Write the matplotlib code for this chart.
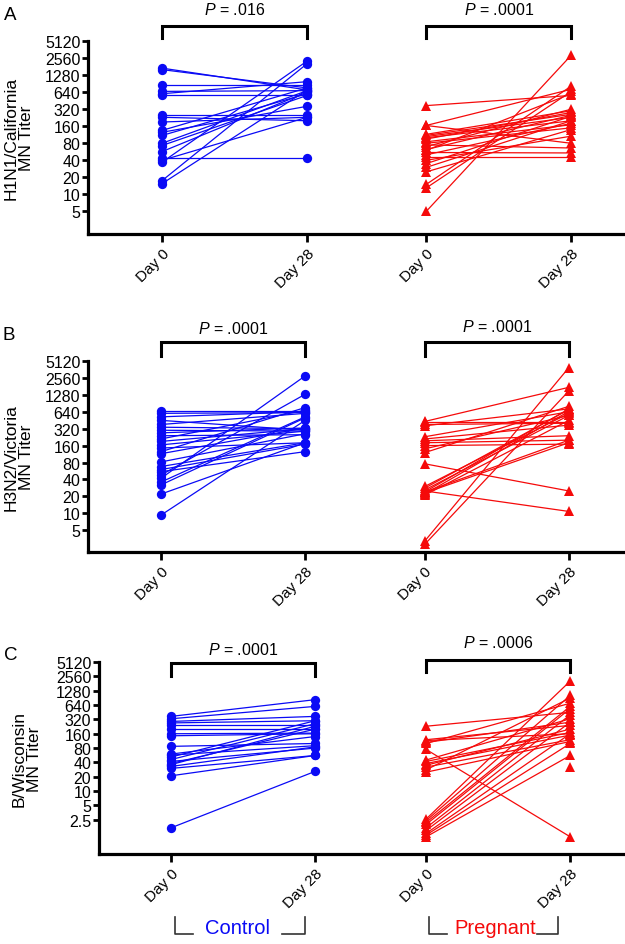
import numpy as np
import matplotlib
matplotlib.use('Agg')
import matplotlib.pyplot as plt
import matplotlib.transforms as mtransforms
from matplotlib.ticker import FixedLocator, FixedFormatter, NullLocator

plt.rcParams['font.family'] = ['Liberation Sans', 'DejaVu Sans']
plt.rcParams['mathtext.fontset'] = 'custom'
plt.rcParams['mathtext.it'] = 'Liberation Sans:italic'
plt.rcParams['mathtext.rm'] = 'Liberation Sans'

# ---------------- data ----------------
day_labels = ['Day 0', 'Day 28']
group_labels = ['Control', 'Pregnant']
panel_letters = ['A', 'B', 'C']
ylabels = ['H1N1/California\nMN Titer', 'H3N2/Victoria\nMN Titer', 'B/Wisconsin\nMN Titer']
pvals_ctrl = ['.016', '.0001', '.0001']
pvals_preg = ['.0001', '.0001', '.0006']
ticks_ab = [5, 10, 20, 40, 80, 160, 320, 640, 1280, 2560, 5120]
ticks_c = [2.5, 5, 10, 20, 40, 80, 160, 320, 640, 1280, 2560, 5120]
tick_labels_ab = ['5', '10', '20', '40', '80', '160', '320', '640', '1280', '2560', '5120']
tick_labels_c = ['2.5', '5', '10', '20', '40', '80', '160', '320', '640', '1280', '2560', '5120']

h1_ctrl_d0 = [1700, 1600, 870, 660, 600, 560, 250, 230, 190, 135, 125, 110, 80, 73, 57, 44, 40, 37, 17.5, 15.5]
h1_ctrl_d28 = [700, 760, 870, 680, 980, 560, 250, 200, 230, 760, 360, 600, 680, 560, 640, 44, 230, 2270, 2040, 700]
h1_preg_d0 = [370, 165, 165, 115, 110, 105, 100, 95, 85, 80, 75, 70, 62, 55, 50, 45, 40, 35, 30, 25, 15, 13, 5, 60]
h1_preg_d28 = [560, 720, 80, 300, 260, 230, 200, 280, 170, 150, 66, 320, 250, 54, 180, 45, 107, 240, 200, 140, 820, 660, 2880, 600]

h3_ctrl_d0 = [650, 600, 520, 450, 380, 340, 300, 270, 240, 210, 190, 165, 145, 125, 115, 82, 68, 60, 55, 48, 42, 36, 32, 22, 9.3]
h3_ctrl_d28 = [650, 620, 640, 300, 600, 320, 290, 330, 250, 680, 320, 290, 180, 760, 330, 260, 180, 170, 125, 1310, 2780, 520, 500, 180, 450]
h3_preg_d0 = [430, 420, 380, 360, 230, 210, 195, 180, 160, 140, 120, 76, 30, 28, 26, 25, 24, 23, 22, 21, 3.2, 2.8, 24]
h3_preg_d28 = [1740, 420, 400, 720, 640, 370, 240, 200, 170, 550, 800, 25, 600, 700, 550, 10.8, 200, 180, 650, 450, 3900, 1500, 720]

bw_ctrl_d0 = [370, 330, 290, 270, 240, 200, 160, 145, 87, 57, 52, 46, 42, 38, 33, 30, 21, 1.7, 36, 60]
bw_ctrl_d28 = [830, 600, 370, 300, 240, 200, 165, 160, 100, 90, 300, 260, 80, 200, 85, 56, 56, 26, 230, 140]
bw_preg_d0 = [230, 120, 115, 105, 100, 75, 45, 42, 38, 35, 32, 28, 25, 2.6, 2.4, 2.2, 2.0, 1.7, 1.5, 1.3, 1.2, 1.1, np.nan]
bw_preg_d28 = [450, 240, 160, 280, 700, 1.1, 330, 170, 150, 200, 120, 900, 110, 2040, 1020, 600, 540, 400, 280, 160, 100, 56, 32]

panels = [
    (h1_ctrl_d0, h1_ctrl_d28, h1_preg_d0, h1_preg_d28),
    (h3_ctrl_d0, h3_ctrl_d28, h3_preg_d0, h3_preg_d28),
    (bw_ctrl_d0, bw_ctrl_d28, bw_preg_d0, bw_preg_d28),
]

# ---------------- layout (pixels) ----------------
W, H = 625, 945
fig = plt.figure(figsize=(W / 100, H / 100), dpi=100)

def fx(px):
    return px / W

def fy(py):
    return 1 - py / H

layout = [
    dict(left=88, top=42, bottom=235, xlim=(-0.51, 3.19), poff=1.82, ymin=2.0, ticks=ticks_ab, tl=tick_labels_ab,
         letter=(4, 16), ylab_x=19, brk_c=(27, 39, 10), brk_p=(27, 39, 10)),
    dict(left=88, top=362, bottom=553, xlim=(-0.507, 3.22), poff=1.83, ymin=2.05, ticks=ticks_ab, tl=tick_labels_ab,
         letter=(3, 336), ylab_x=19, brk_c=(343, 357, 329), brk_p=(343, 357, 327)),
    dict(left=99, top=663, bottom=855, xlim=(-0.5, 3.15), poff=1.77, ymin=0.48, ticks=ticks_c, tl=tick_labels_c,
         letter=(4, 655), ylab_x=27, brk_c=(664, 677, 650), brk_p=(661, 673, 643)),
]

blue = '#0A0AF5'
red = '#F50A0A'

for i, (lay, data) in enumerate(zip(layout, panels)):
    c0, c28, p0, p28 = [np.asarray(d, dtype=float) for d in data]
    ax = fig.add_axes([fx(lay['left']), fy(lay['bottom']), fx(W) - fx(lay['left']),
                       (lay['bottom'] - lay['top']) / H])
    ax.set_yscale('log', base=2)
    ax.set_ylim(lay['ymin'], 5120)
    ax.set_xlim(*lay['xlim'])
    xc = np.array([0.0, 1.0])
    xp = xc + lay['poff']

    # lines
    ax.plot(np.vstack([np.full(len(c0), xc[0]), np.full(len(c0), xc[1])]),
            np.vstack([c0, c28]), color=blue, lw=0.9, zorder=2)
    ax.plot(np.vstack([np.full(len(p0), xp[0]), np.full(len(p0), xp[1])]),
            np.vstack([p0, p28]), color=red, lw=0.9, zorder=2)
    # markers
    ax.plot(np.full(len(c0), xc[0]), c0, 'o', color=blue, ms=6.7, mew=0, zorder=3)
    ax.plot(np.full(len(c28), xc[1]), c28, 'o', color=blue, ms=6.7, mew=0, zorder=3)
    ax.plot(np.full(len(p0), xp[0]), p0, '^', color=red, ms=6.5, mew=0, zorder=3)
    ax.plot(np.full(len(p28), xp[1]), p28, '^', color=red, ms=6.5, mew=0, zorder=3)

    # axes style
    for s in ['top', 'right']:
        ax.spines[s].set_visible(False)
    for s in ['left', 'bottom']:
        ax.spines[s].set_linewidth(2.3)
    ax.yaxis.set_major_locator(FixedLocator(lay['ticks']))
    ax.yaxis.set_major_formatter(FixedFormatter(lay['tl']))
    ax.yaxis.set_minor_locator(NullLocator())
    ax.tick_params(axis='y', which='major', direction='out', length=4.5, width=2.0, labelsize=11.5, pad=1)
    ax.set_xticks(np.concatenate([xc, xp]))
    ax.set_xticklabels(day_labels + day_labels, rotation=45, ha='right', va='top',
                       rotation_mode='anchor', fontsize=11)
    ax.tick_params(axis='x', which='major', direction='out', length=5.5, width=2.0, pad=3)
    ax.patch.set_visible(False)

    # brackets + P values
    trans = mtransforms.blended_transform_factory(ax.transData, fig.transFigure)
    for xs, (ytop, ybot, ytxt), pv in [(xc, lay['brk_c'], pvals_ctrl[i]), (xp, lay['brk_p'], pvals_preg[i])]:
        ax.plot([xs[0], xs[0], xs[1], xs[1]], [fy(ybot), fy(ytop), fy(ytop), fy(ybot)],
                color='black', lw=2.2, transform=trans, clip_on=False, solid_joinstyle='miter')
        ax.text(xs.mean(), fy(ytxt), r'$\it{P}$' + ' = ' + pv, transform=trans, ha='center', va='center',
                fontsize=11.5)

    # panel letter & y label
    fig.text(fx(lay['letter'][0]), fy(lay['letter'][1]), panel_letters[i], ha='left', va='center', fontsize=13.5)
    fig.text(fx(lay['ylab_x']), fy((lay['top'] + lay['bottom']) / 2), ylabels[i], rotation=90,
             ha='center', va='center', fontsize=12.5, linespacing=1.0, multialignment='center')

# group labels under the bottom panel (pixel positions)
group_marks = [
    (group_labels[0], blue, 175, 193, 237, 282, 305),
    (group_labels[1], red, 429, 447, 495, 537, 558),
]
yb, yt = fy(935), fy(918)
for name, col, xl, xl2, xt, xr2, xr in group_marks:
    fig.add_artist(plt.Line2D([fx(xl), fx(xl), fx(xl2)], [yt, yb, yb], color='#333333', lw=1.2))
    fig.add_artist(plt.Line2D([fx(xr2), fx(xr), fx(xr)], [yb, yb, yt], color='#333333', lw=1.2))
    fig.text(fx(xt), fy(929), name, color=col, ha='center', va='center', fontsize=14.5)

fig.savefig('out.png', dpi=100)
